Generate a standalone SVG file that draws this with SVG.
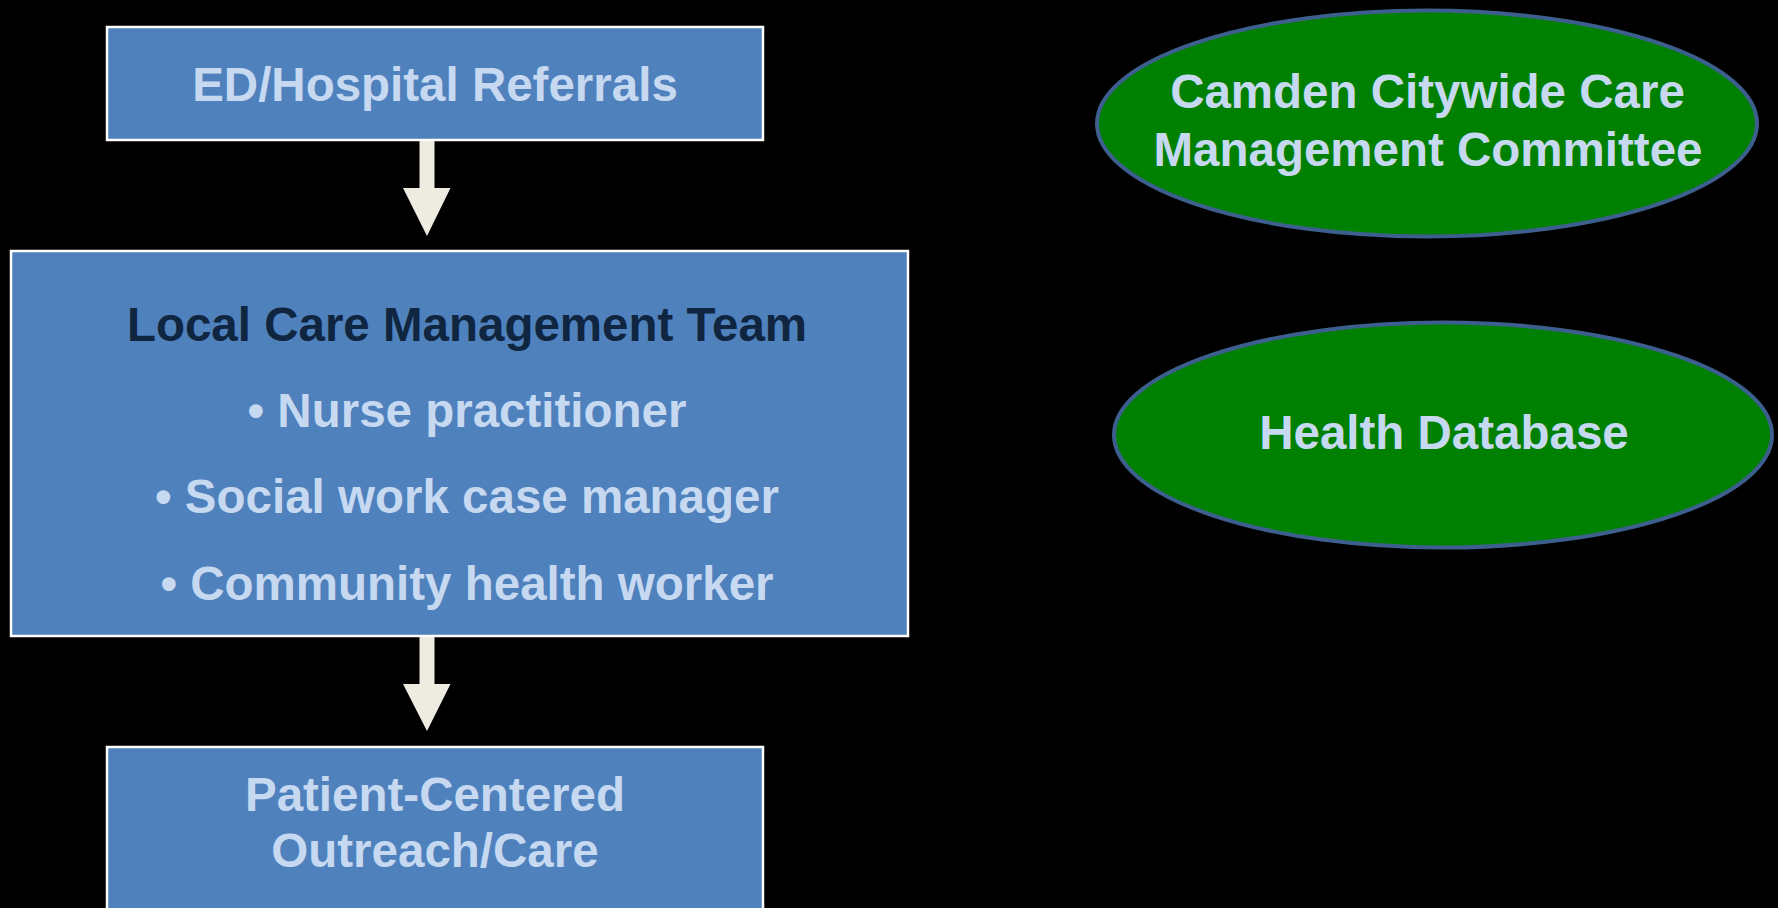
<svg xmlns="http://www.w3.org/2000/svg" width="1778" height="908" viewBox="0 0 1778 908">
<style>
.box{fill:#4F81BD;stroke:#FFFFFF;stroke-width:2.5}
.oval{fill:#008000;stroke:#3C5F8E;stroke-width:4}
.t{font-family:"Liberation Sans",Arial,sans-serif;font-weight:bold;font-size:47.5px;fill:#C6D9F1;text-anchor:middle}
.dark{fill:#10253F}
.arrow{fill:#EEECE1}
</style>
<rect width="1778" height="908" fill="#000000"/>
<g id="ed-hospital-referrals">
<rect class="box" x="107" y="27" width="656" height="113"/>
<text class="t" x="435" y="101">ED/Hospital Referrals</text>
</g>
<g id="local-care-management-team">
<rect class="box" x="11" y="251" width="897" height="385"/>
<text class="t dark" x="467" y="341">Local Care Management Team</text>
<text class="t" x="467" y="427">• Nurse practitioner</text>
<text class="t" x="467" y="513">• Social work case manager</text>
<text class="t" x="467" y="600">• Community health worker</text>
</g>
<g id="patient-centered-outreach">
<rect class="box" x="107" y="747" width="656" height="170"/>
<text class="t" x="435" y="811">Patient-Centered</text>
<text class="t" x="435" y="867">Outreach/Care</text>
</g>
<g id="camden-committee">
<ellipse class="oval" cx="1427" cy="123.5" rx="330" ry="113"/>
<text class="t" x="1427.5" y="108">Camden Citywide Care</text>
<text class="t" x="1428" y="166">Management Committee</text>
</g>
<g id="health-database">
<ellipse class="oval" cx="1443" cy="435" rx="329" ry="112.5"/>
<text class="t" x="1444" y="449">Health Database</text>
</g>
<g id="connectors">
<polygon class="arrow" points="419.5,141 434.5,141 434.5,188 450.5,188 427,236 403,188 419.5,188"/>
<polygon class="arrow" points="419.5,637 434.5,637 434.5,684 450.5,684 427,731 403,684 419.5,684"/>
</g>
</svg>
